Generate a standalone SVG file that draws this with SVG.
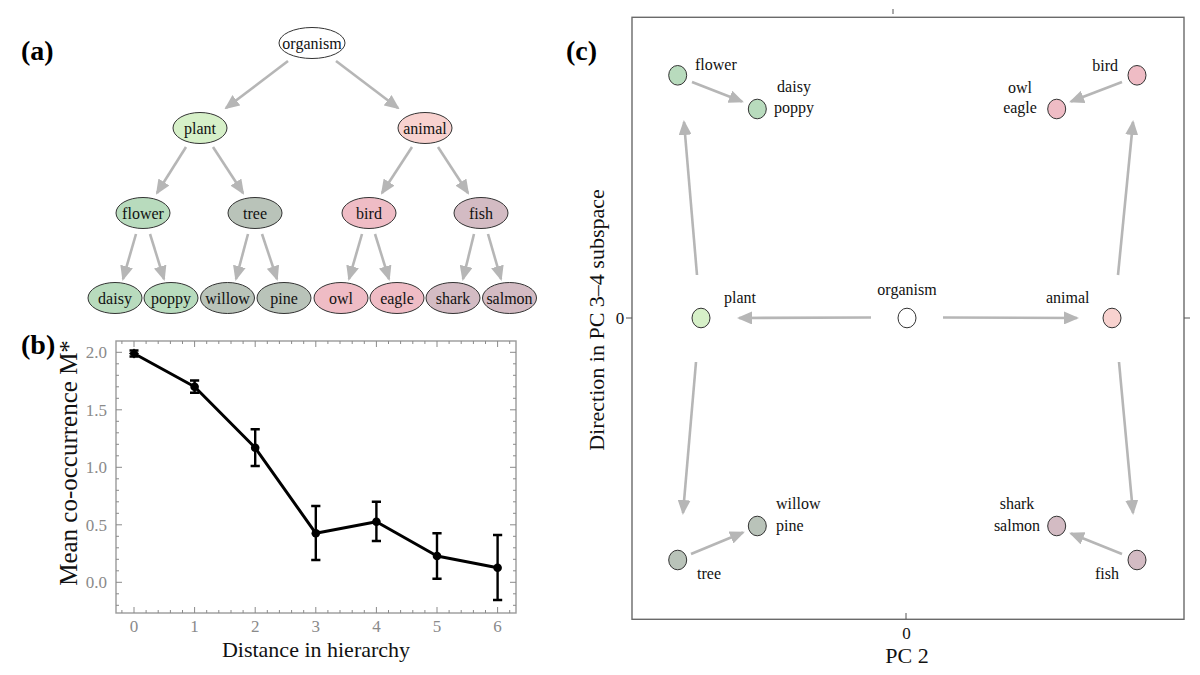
<svg xmlns="http://www.w3.org/2000/svg" width="1200" height="675" viewBox="0 0 1200 675">
<defs>
<marker id="ah" viewBox="0 0 15 13" refX="13" refY="6.5" markerWidth="15" markerHeight="13" markerUnits="userSpaceOnUse" orient="auto">
<path d="M0,0 L15,6.5 L0,13 z" fill="#b6b6b6"/>
</marker>
<style>
.lbl{font-family:"Liberation Serif","Times New Roman",serif;font-weight:bold;font-size:28px;fill:#000}
.nt{font-family:"Liberation Serif","Times New Roman",serif;font-size:16px;fill:#111}
.nd{stroke:#333;stroke-width:1}
.arr{stroke:#b6b6b6;stroke-width:2.6;fill:none;marker-end:url(#ah)}
.tk{font-family:"Liberation Serif","Times New Roman",serif;font-size:17px;fill:#8a8a8a}
.ax{font-family:"Liberation Serif","Times New Roman",serif;fill:#111}
.white{fill:#ffffff}
.plant{fill:#d6f0c8}
.animal{fill:#f8d2cf}
.flower{fill:#b8dbbd}
.tree{fill:#b9c3b9}
.bird{fill:#efbcc5}
.fish{fill:#d3bbc3}
</style>
</defs>
<rect width="1200" height="675" fill="#ffffff"/>

<!-- panel labels -->
<text class="lbl" x="21" y="60">(a)</text>
<text class="lbl" x="21" y="354">(b)</text>
<text class="lbl" x="566" y="60">(c)</text>

<!-- ===== Panel (a) tree ===== -->
<g id="a-connectors">
<line class="arr" x1="288" y1="61" x2="226" y2="108"/>
<line class="arr" x1="336" y1="61" x2="398" y2="108"/>
<line class="arr" x1="186" y1="147" x2="157" y2="193"/>
<line class="arr" x1="213" y1="147" x2="243" y2="193"/>
<line class="arr" x1="412" y1="147" x2="382" y2="193"/>
<line class="arr" x1="438" y1="147" x2="468" y2="193"/>
<line class="arr" x1="136" y1="234" x2="123" y2="279"/>
<line class="arr" x1="150" y1="234" x2="164" y2="279"/>
<line class="arr" x1="248" y1="234" x2="236" y2="279"/>
<line class="arr" x1="262" y1="234" x2="277" y2="279"/>
<line class="arr" x1="362" y1="234" x2="349" y2="279"/>
<line class="arr" x1="375" y1="234" x2="389" y2="279"/>
<line class="arr" x1="474" y1="234" x2="463" y2="279"/>
<line class="arr" x1="488" y1="234" x2="501" y2="279"/>
</g>
<g id="a-organism"><ellipse class="nd white" cx="312" cy="43" rx="33" ry="15.5"/><text class="nt" x="312" y="48.5" text-anchor="middle">organism</text></g>
<g id="a-plant"><ellipse class="nd plant" cx="200" cy="128" rx="27" ry="15.5"/><text class="nt" x="200" y="133.5" text-anchor="middle">plant</text></g>
<g id="a-animal"><ellipse class="nd animal" cx="425" cy="128" rx="27" ry="15.5"/><text class="nt" x="425" y="133.5" text-anchor="middle">animal</text></g>
<g id="a-flower"><ellipse class="nd flower" cx="143" cy="213" rx="27" ry="15.5"/><text class="nt" x="143" y="218.5" text-anchor="middle">flower</text></g>
<g id="a-tree"><ellipse class="nd tree" cx="255" cy="213" rx="27" ry="15.5"/><text class="nt" x="255" y="218.5" text-anchor="middle">tree</text></g>
<g id="a-bird"><ellipse class="nd bird" cx="369" cy="213" rx="27" ry="15.5"/><text class="nt" x="369" y="218.5" text-anchor="middle">bird</text></g>
<g id="a-fish"><ellipse class="nd fish" cx="481" cy="213" rx="27" ry="15.5"/><text class="nt" x="481" y="218.5" text-anchor="middle">fish</text></g>
<g id="a-daisy"><ellipse class="nd flower" cx="115" cy="298" rx="27" ry="15.5"/><text class="nt" x="115" y="303.5" text-anchor="middle">daisy</text></g>
<g id="a-poppy"><ellipse class="nd flower" cx="171" cy="298" rx="27" ry="15.5"/><text class="nt" x="171" y="303.5" text-anchor="middle">poppy</text></g>
<g id="a-willow"><ellipse class="nd tree" cx="227.5" cy="298" rx="27" ry="15.5"/><text class="nt" x="227.5" y="303.5" text-anchor="middle">willow</text></g>
<g id="a-pine"><ellipse class="nd tree" cx="284" cy="298" rx="27" ry="15.5"/><text class="nt" x="284" y="303.5" text-anchor="middle">pine</text></g>
<g id="a-owl"><ellipse class="nd bird" cx="341" cy="298" rx="27" ry="15.5"/><text class="nt" x="341" y="303.5" text-anchor="middle">owl</text></g>
<g id="a-eagle"><ellipse class="nd bird" cx="397" cy="298" rx="27" ry="15.5"/><text class="nt" x="397" y="303.5" text-anchor="middle">eagle</text></g>
<g id="a-shark"><ellipse class="nd fish" cx="453" cy="298" rx="27" ry="15.5"/><text class="nt" x="453" y="303.5" text-anchor="middle">shark</text></g>
<g id="a-salmon"><ellipse class="nd fish" cx="509.5" cy="298" rx="27" ry="15.5"/><text class="nt" x="509.5" y="303.5" text-anchor="middle">salmon</text></g>

<!-- ===== Panel (b) plot ===== -->
<g id="b-plot">
<rect x="116" y="341" width="400" height="272" fill="none" stroke="#9a9a9a" stroke-width="1.4"/>
<path stroke="#8a8a8a" stroke-width="1" fill="none" d="M121.9 613v-3M146.1 613v-3M158.2 613v-3M170.4 613v-3M182.5 613v-3M206.7 613v-3M218.8 613v-3M231 613v-3M243.1 613v-3M267.3 613v-3M279.4 613v-3M291.6 613v-3M303.7 613v-3M327.9 613v-3M340 613v-3M352.2 613v-3M364.3 613v-3M388.5 613v-3M400.6 613v-3M412.8 613v-3M424.9 613v-3M449.1 613v-3M461.2 613v-3M473.4 613v-3M485.5 613v-3M509.7 613v-3
M121.9 341v3M146.1 341v3M158.2 341v3M170.4 341v3M182.5 341v3M206.7 341v3M218.8 341v3M231 341v3M243.1 341v3M267.3 341v3M279.4 341v3M291.6 341v3M303.7 341v3M327.9 341v3M340 341v3M352.2 341v3M364.3 341v3M388.5 341v3M400.6 341v3M412.8 341v3M424.9 341v3M449.1 341v3M461.2 341v3M473.4 341v3M485.5 341v3M509.7 341v3
M134 613v-6M194.6 613v-6M255.2 613v-6M315.8 613v-6M376.4 613v-6M437 613v-6M497.6 613v-6
M134 341v6M194.6 341v6M255.2 341v6M315.8 341v6M376.4 341v6M437 341v6M497.6 341v6
M116 605.3h3M116 593.8h3M116 570.8h3M116 559.3h3M116 547.8h3M116 536.3h3M116 513.3h3M116 501.8h3M116 490.3h3M116 478.8h3M116 455.8h3M116 444.3h3M116 432.8h3M116 421.3h3M116 398.3h3M116 386.8h3M116 375.3h3M116 363.8h3
M516 605.3h-3M516 593.8h-3M516 570.8h-3M516 559.3h-3M516 547.8h-3M516 536.3h-3M516 513.3h-3M516 501.8h-3M516 490.3h-3M516 478.8h-3M516 455.8h-3M516 444.3h-3M516 432.8h-3M516 421.3h-3M516 398.3h-3M516 386.8h-3M516 375.3h-3M516 363.8h-3
M116 582.3h6M116 524.8h6M116 467.3h6M116 409.8h6M116 352.3h6
M516 582.3h-6M516 524.8h-6M516 467.3h-6M516 409.8h-6M516 352.3h-6"/>
<g class="tk" text-anchor="end">
<text x="107" y="358.3">2.0</text>
<text x="107" y="415.8">1.5</text>
<text x="107" y="473.3">1.0</text>
<text x="107" y="530.8">0.5</text>
<text x="107" y="588.3">0.0</text>
</g>
<g class="tk" text-anchor="middle">
<text x="134" y="631.5">0</text>
<text x="194.6" y="631.5">1</text>
<text x="255.2" y="631.5">2</text>
<text x="315.8" y="631.5">3</text>
<text x="376.4" y="631.5">4</text>
<text x="437" y="631.5">5</text>
<text x="497.6" y="631.5">6</text>
</g>
<text class="ax" x="316" y="657" font-size="22" text-anchor="middle">Distance in hierarchy</text>
<text class="ax" transform="translate(77,463) rotate(-90)" font-size="25" text-anchor="middle">Mean co-occurrence M*</text>
<polyline points="134,353.5 194.6,386.8 255.2,447.8 315.8,533.3 376.4,521.7 437,556 497.6,567.7" fill="none" stroke="#000" stroke-width="3" stroke-linejoin="round"/>
<path stroke="#000" stroke-width="2.4" fill="none" d="M134 350.5v6M129.5 350.5h9M129.5 356.5h9
M194.6 380.5v12.3M190 380.5h9.2M190 392.8h9.2
M255.2 429.3v36.7M250.6 429.3h9.2M250.6 466h9.2
M315.8 506v54M311.2 506h9.2M311.2 560h9.2
M376.4 501.7v39.3M371.8 501.7h9.2M371.8 541h9.2
M437 533.3v45.4M432.4 533.3h9.2M432.4 578.7h9.2
M497.6 535v65M493 535h9.2M493 600h9.2"/>
<g fill="#000">
<path d="M134 348.5l5 5-5 5-5-5z"/>
<circle cx="194.6" cy="386.8" r="4.3"/>
<circle cx="255.2" cy="447.8" r="4.3"/>
<circle cx="315.8" cy="533.3" r="4.3"/>
<circle cx="376.4" cy="521.7" r="4.3"/>
<circle cx="437" cy="556" r="4.3"/>
<circle cx="497.6" cy="567.7" r="4.3"/>
</g>
</g>

<!-- ===== Panel (c) ===== -->
<g id="c-axes">
<rect x="632" y="17.3" width="552" height="602" fill="none" stroke="#6a6a6a" stroke-width="1.4"/>
<path stroke="#555" stroke-width="1" d="M626 318h6M1184 318h6M893 9v5M906 619v-6"/>
<text class="ax" x="620" y="324" font-size="17" text-anchor="middle">0</text>
<text class="ax" x="906.5" y="638.5" font-size="17" text-anchor="middle">0</text>
<text class="ax" x="907" y="663" font-size="22" text-anchor="middle">PC 2</text>
<text class="ax" transform="translate(604,320) rotate(-90)" font-size="22" text-anchor="middle">Direction in PC 3–4 subspace</text>
</g>
<g id="c-connectors">
<line class="arr" x1="692" y1="82" x2="742" y2="101.5"/>
<line class="arr" x1="1122" y1="82" x2="1071" y2="101.5"/>
<line class="arr" x1="697" y1="275" x2="684" y2="122"/>
<line class="arr" x1="1118" y1="275" x2="1133" y2="122"/>
<line class="arr" x1="871" y1="317.5" x2="739" y2="318"/>
<line class="arr" x1="943" y1="317.5" x2="1077" y2="318"/>
<line class="arr" x1="696" y1="362" x2="683" y2="513"/>
<line class="arr" x1="1119" y1="362" x2="1133" y2="513"/>
<line class="arr" x1="691" y1="554" x2="743" y2="532.5"/>
<line class="arr" x1="1122" y1="554" x2="1071" y2="533.5"/>
</g>
<g id="c-organism"><ellipse class="nd white" cx="907" cy="318" rx="9" ry="9.8"/><text class="nt" x="907" y="295" text-anchor="middle">organism</text></g>
<g id="c-plant"><ellipse class="nd plant" cx="701" cy="318" rx="9" ry="9.8"/><text class="nt" x="724" y="303">plant</text></g>
<g id="c-animal"><ellipse class="nd animal" cx="1112" cy="318" rx="9" ry="9.8"/><text class="nt" x="1046" y="303">animal</text></g>
<g id="c-flower"><ellipse class="nd flower" cx="677.7" cy="75.3" rx="9" ry="9.8"/><text class="nt" x="695" y="70">flower</text></g>
<g id="c-daisy-poppy"><ellipse class="nd flower" cx="757.3" cy="109" rx="9" ry="9.8"/><text class="nt" x="794" y="92" text-anchor="middle">daisy</text><text class="nt" x="794" y="113" text-anchor="middle">poppy</text></g>
<g id="c-bird"><ellipse class="nd bird" cx="1137" cy="75.3" rx="9" ry="9.8"/><text class="nt" x="1118" y="71" text-anchor="end">bird</text></g>
<g id="c-owl-eagle"><ellipse class="nd bird" cx="1056.7" cy="109" rx="9" ry="9.8"/><text class="nt" x="1020" y="93" text-anchor="middle">owl</text><text class="nt" x="1020" y="113" text-anchor="middle">eagle</text></g>
<g id="c-tree"><ellipse class="nd tree" cx="677.7" cy="560" rx="9" ry="9.8"/><text class="nt" x="697" y="579">tree</text></g>
<g id="c-willow-pine"><ellipse class="nd tree" cx="757.3" cy="526" rx="9" ry="9.8"/><text class="nt" x="776" y="509">willow</text><text class="nt" x="776" y="531">pine</text></g>
<g id="c-fish"><ellipse class="nd fish" cx="1137" cy="560" rx="9" ry="9.8"/><text class="nt" x="1119" y="579" text-anchor="end">fish</text></g>
<g id="c-shark-salmon"><ellipse class="nd fish" cx="1056.7" cy="526" rx="9" ry="9.8"/><text class="nt" x="1017" y="509" text-anchor="middle">shark</text><text class="nt" x="1017" y="531" text-anchor="middle">salmon</text></g>
</svg>
